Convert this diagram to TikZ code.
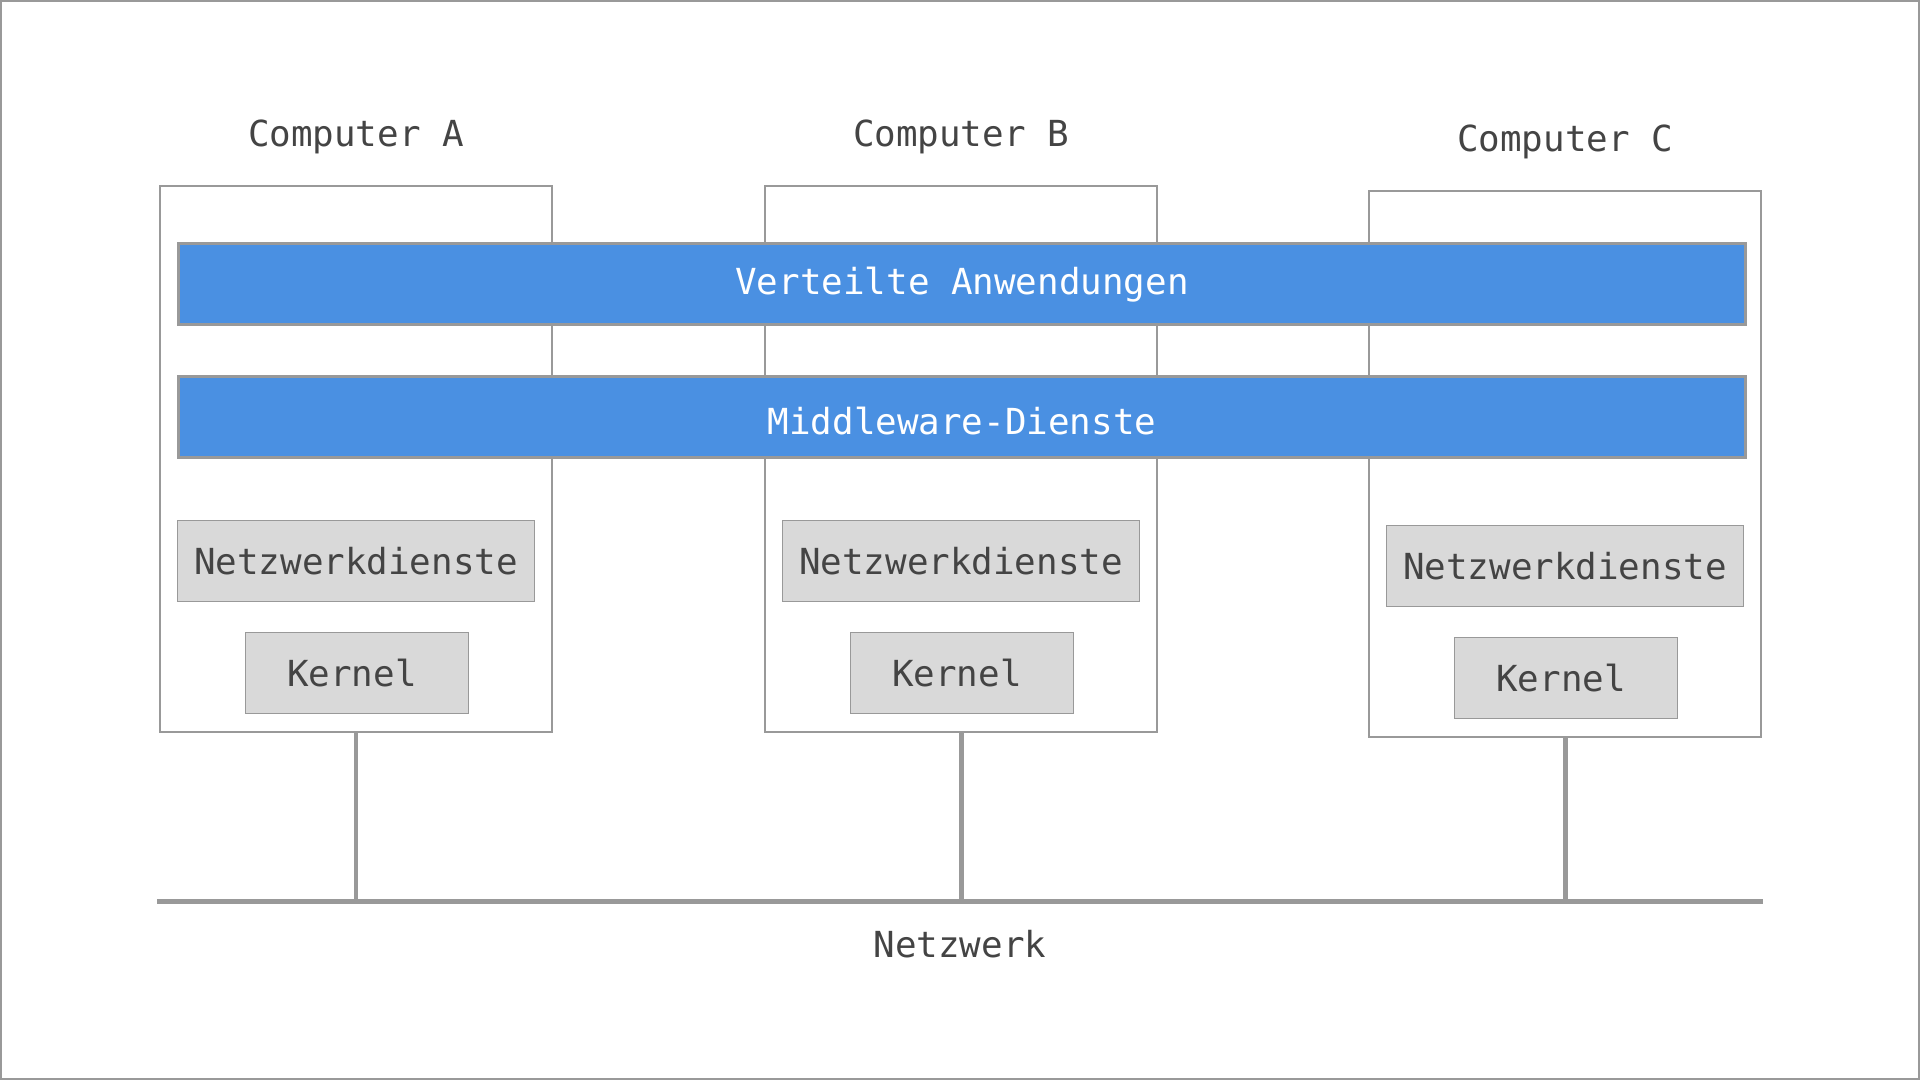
\documentclass[tikz,border=0pt]{standalone}
\usepackage{fontspec}
\setmonofont{DejaVu Sans Mono}
\usetikzlibrary{calc,positioning}
\definecolor{barblue}{HTML}{4A90E2}
\definecolor{linegray}{HTML}{999999}
\definecolor{boxgray}{HTML}{D9D9D9}
\definecolor{textgray}{HTML}{444444}

\tikzset{
  label text/.style={font=\ttfamily\fontsize{10.2}{12}\selectfont, text=textgray,
    inner sep=0pt, text height=1.75ex, text depth=0pt},
  computer/.style={draw=linegray, line width=0.57pt, fill=white,
    minimum width=3.92cm, minimum height=5.46cm, inner sep=0pt},
  layer/.style={label text, text=white, draw=linegray, line width=0.85pt, fill=barblue,
    minimum width=15.66cm, minimum height=0.8cm},
  osbox/.style={label text, draw=linegray, line width=0.4pt, fill=boxgray,
    minimum height=0.81cm},
  wire/.style={linegray, line width=1.42pt}
}

\begin{document}
\begin{tikzpicture}[x=0.01cm, y=-0.01cm]
  \useasboundingbox (0,0) rectangle (1920,1080);
  \draw[linegray, line width=0.57pt] (1,1) rectangle (1919,1079);

  % Computers with their local layers
  \foreach \n/\x/\y in {A/356/459, B/961/459, C/1565/464} {
    \node[computer] (comp\n) at (\x, \y) {};
    \node[label text] (title\n) at (\x, \y-326) {Computer \n};
    \node[osbox, minimum width=3.57cm] (netsvc\n) at (\x, \y+102) {Netzwerkdienste};
    \node[osbox, minimum width=2.23cm] (kernel\n) at (\x+1, \y+214) {Kernel\hspace*{0.1cm}};
  }

  % Shared layers across all computers
  \node[layer, text depth=0.4ex] (apps) at (962, 284) {Verteilte Anwendungen};
  \node[layer, text height=2.26ex] (middleware) at (962, 417) {Middleware-Dienste};

  % Network
  \coordinate (netL) at (157, 902);
  \coordinate (netR) at (1763, 902);
  \draw[wire] (netL) -- (netR);
  \node[label text] (netlabel) at (960, 944) {Netzwerk};
  \foreach \n in {A, B, C} {
    \draw[wire] (comp\n.south) -- (comp\n.south |- netL);
  }
\end{tikzpicture}
\end{document}
